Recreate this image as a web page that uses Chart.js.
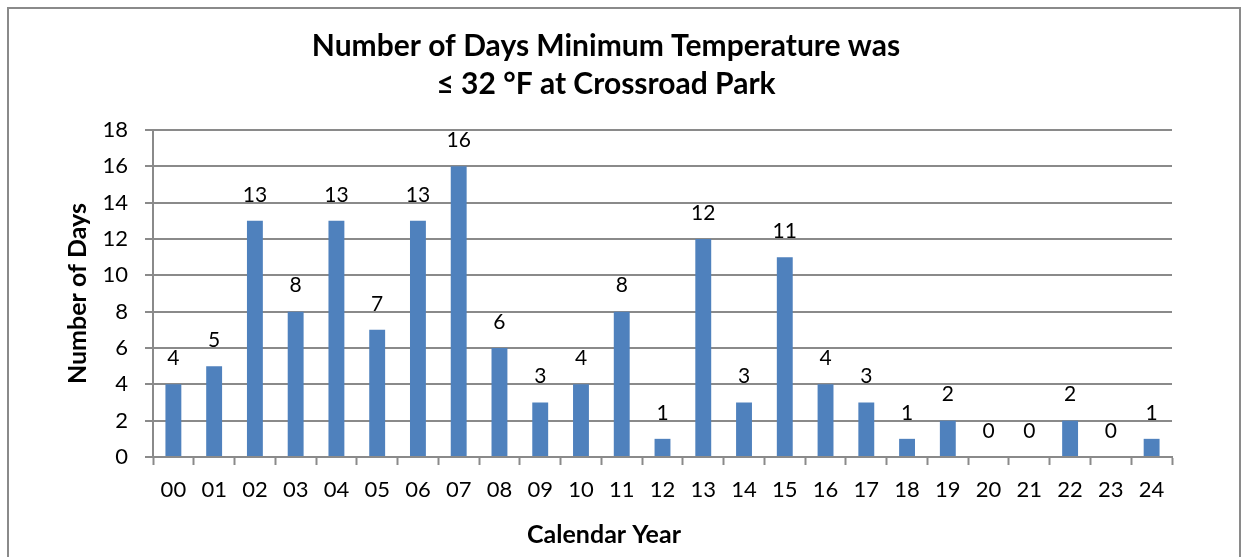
<!DOCTYPE html>
<html>
<head>
<meta charset="utf-8">
<script src="https://cdn.jsdelivr.net/npm/chart.js@4.4.1/dist/chart.umd.min.js"></script>
<style>
  html, body { margin: 0; padding: 0; background: #fff; }
  #wrap { position: relative; width: 1247px; height: 557px; overflow: hidden; }
  #frame { position: absolute; left: 7px; top: 7px; width: 1230px; height: 600px; border: 2px solid #8a8a8a; }
  canvas { position: absolute; left: 0; top: 0; }
</style>
</head>
<body>
<div id="wrap">
  <div id="frame"></div>
  <canvas id="frostChart" width="1247" height="557"></canvas>
</div>
<script>
// data
const years = ["00","01","02","03","04","05","06","07","08","09","10","11","12",
               "13","14","15","16","17","18","19","20","21","22","23","24"];
const frostDays = [4,5,13,8,13,7,13,16,6,3,4,8,1,12,3,11,4,3,1,2,0,0,2,0,1];
const yTicks = [0,2,4,6,8,10,12,14,16,18];
const titleLines = ["Number of Days Minimum Temperature was", "\u2264 32 \u00b0F at Crossroad Park"];

const FONT = "Lato, 'DejaVu Sans', sans-serif";

// bar value labels + titles drawn on canvas
const textPlugin = {
  id: "textPlugin",
  afterDatasetsDraw(chart) {
    const ctx = chart.ctx;
    ctx.save();
    ctx.fillStyle = "#000";
    ctx.textAlign = "center";
    ctx.textBaseline = "middle";
    ctx.font = "21px " + FONT;
    chart.getDatasetMeta(0).data.forEach((bar, i) => {
      ctx.fillText(String(frostDays[i]), bar.x, bar.y - 26);
    });
    ctx.font = "bold 30px " + FONT;
    ctx.fillText(titleLines[0], 606, 46);
    ctx.fillText(titleLines[1], 606, 84);
    ctx.font = "bold 25px " + FONT;
    ctx.fillText("Calendar Year", 604, 535);
    ctx.restore();
  }
};

const ctx = document.getElementById("frostChart").getContext("2d");
const frostChart = new Chart(ctx, {
  type: "bar",
  data: {
    labels: years,
    datasets: [{
      data: frostDays,
      backgroundColor: "#4F81BD",
      borderWidth: 0,
      categoryPercentage: 1,
      barPercentage: 0.39
    }]
  },
  options: {
    responsive: false,
    animation: false,
    layout: { padding: { top: 130, left: 60, right: 75, bottom: 0 } },
    plugins: {
      legend: { display: false },
      tooltip: { enabled: false }
    },
    scales: {
      x: {
        afterFit(scale) { scale.height = 100; },
        grid: {
          offset: true,
          drawOnChartArea: false,
          drawTicks: true,
          tickLength: 8,
          tickWidth: 2,
          color: "#8a8a8a"
        },
        border: { color: "#8a8a8a", width: 2 },
        ticks: { color: "#000", font: { family: FONT, size: 22 }, padding: 12, maxRotation: 0 }
      },
      y: {
        min: 0,
        max: 18,
        afterFit(scale) { scale.width = 93; },
        afterBuildTicks(scale) { scale.ticks = yTicks.map(v => ({ value: v })); },
        grid: { color: "#8a8a8a", lineWidth: 2, tickLength: 8 },
        border: { color: "#8a8a8a", width: 2 },
        ticks: { color: "#000", font: { family: FONT, size: 22 }, padding: 17 },
        title: {
          display: true,
          text: "Number of Days",
          color: "#000",
          font: { family: FONT, size: 25, weight: "bold" },
          padding: { top: 3, bottom: 0 }
        }
      }
    }
  },
  plugins: [textPlugin]
});
</script>
</body>
</html>
